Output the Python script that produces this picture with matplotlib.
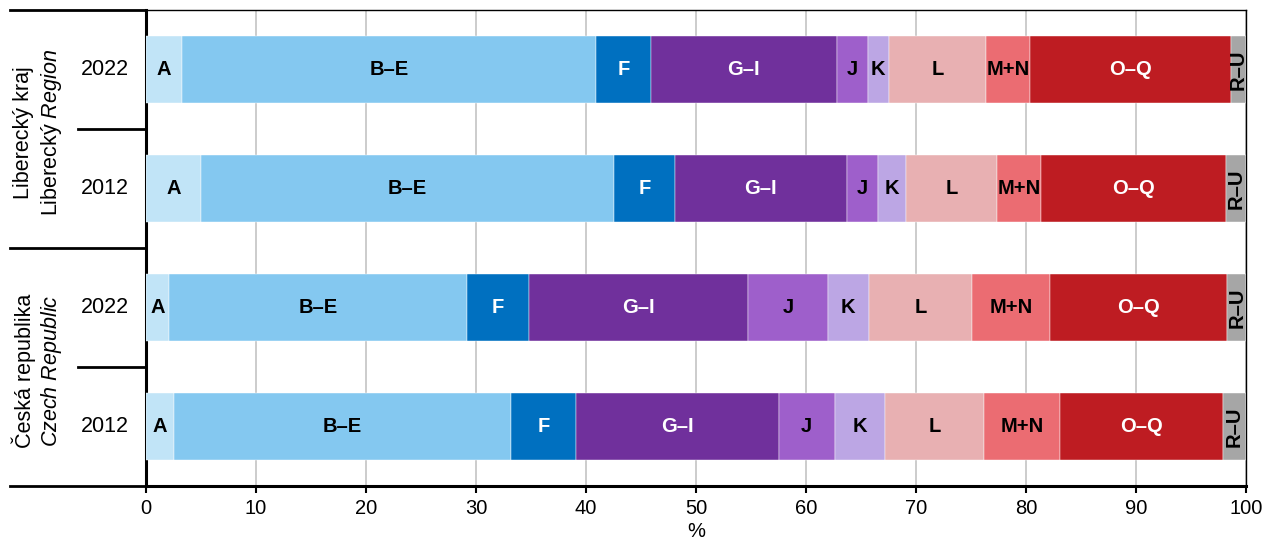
import matplotlib
matplotlib.use("Agg")
import matplotlib.pyplot as plt
import matplotlib.transforms as mtransforms

plt.rcParams['font.family'] = ['Liberation Sans', 'DejaVu Sans']
plt.rcParams['mathtext.fontset'] = 'custom'
plt.rcParams['mathtext.rm'] = 'Liberation Sans'
plt.rcParams['mathtext.it'] = 'Liberation Sans:italic'

SECTIONS = ["A", "B–E", "F", "G–I", "J", "K", "L", "M+N", "O–Q", "R–U"]
COLORS = ["#c1e4f7", "#84c8f0", "#0070c0", "#70309c", "#9e5fcb",
          "#bca6e4", "#e8b0b2", "#eb6c72", "#be1c22", "#a6a6a6"]
TEXT_COLORS = ["black", "black", "white", "white", "black",
               "black", "black", "black", "white", "black"]

YEARS = ["2022", "2012", "2022", "2012"]
LIB_2022 = [3.3, 37.6, 5.0, 16.9, 2.8, 1.9, 8.9, 4.0, 18.2, 1.4]
LIB_2012 = [5.0, 37.5, 5.6, 15.6, 2.8, 2.6, 8.3, 4.0, 16.8, 1.8]
CZ_2022 = [2.1, 27.1, 5.6, 19.9, 7.3, 3.7, 9.4, 7.1, 16.1, 1.7]
CZ_2012 = [2.5, 30.7, 5.9, 18.4, 5.1, 4.6, 9.0, 6.9, 14.8, 2.1]
ROWS = [LIB_2022, LIB_2012, CZ_2022, CZ_2012]

GROUPS = [("Liberecký kraj", r"Liberecký $\mathit{Region}$"),
          ("Česká republika", r"$\mathit{Czech\ Republic}$")]

fig = plt.figure(figsize=(12.65, 5.42), dpi=100)
ax = fig.add_axes([146 / 1265, 56 / 542, 1100 / 1265, 476 / 542])

bar_h = 0.555
for i, row in enumerate(ROWS):
    left = 0
    for j, v in enumerate(row):
        ax.barh(i, v, left=left, height=bar_h, color=COLORS[j],
                edgecolor="white", linewidth=0.3, zorder=3)
        cx = left + v / 2
        rot = 90 if SECTIONS[j] == "R–U" else 0
        ax.text(cx, i, SECTIONS[j], rotation=rot, ha="center", va="center",
                fontsize=14.5, fontweight="bold", color=TEXT_COLORS[j], zorder=4)
        left += v

ax.set_xlim(0, 100)
ax.set_ylim(3.5, -0.5)
ax.set_xticks(range(0, 101, 10))
ax.tick_params(axis="x", labelsize=14.5, length=5, width=1.5, pad=4)
ax.set_yticks([])
ax.grid(axis="x", color="#c8c8c8", linewidth=1.3, zorder=0)
ax.set_xlabel("%", fontsize=14.5, labelpad=3)

for s in ["left", "bottom"]:
    ax.spines[s].set_linewidth(2.2)
for s in ["top", "right"]:
    ax.spines[s].set_linewidth(1.0)

trans = mtransforms.blended_transform_factory(ax.transAxes, ax.transData)
for y in [-0.5, 1.5, 3.5]:
    ax.plot([-0.1236, 0], [y, y], color="black", linewidth=2,
            transform=trans, clip_on=False)
for y in [0.5, 2.5]:
    ax.plot([-0.0618, 0], [y, y], color="black", linewidth=2,
            transform=trans, clip_on=False)

for i, yr in enumerate(YEARS):
    ax.text(-0.0375, i, yr, transform=trans, ha="center", va="center", fontsize=15.5)

for g, (l1, l2) in enumerate(GROUPS):
    yc = 0.53 + 2 * g
    ax.text(-0.111, yc, l1, transform=trans, rotation=90,
            ha="center", va="center", fontsize=15.5)
    ax.text(-0.0855, yc, l2, transform=trans, rotation=90,
            ha="center", va="center", fontsize=15.5)

fig.savefig("out.png", dpi=100)
